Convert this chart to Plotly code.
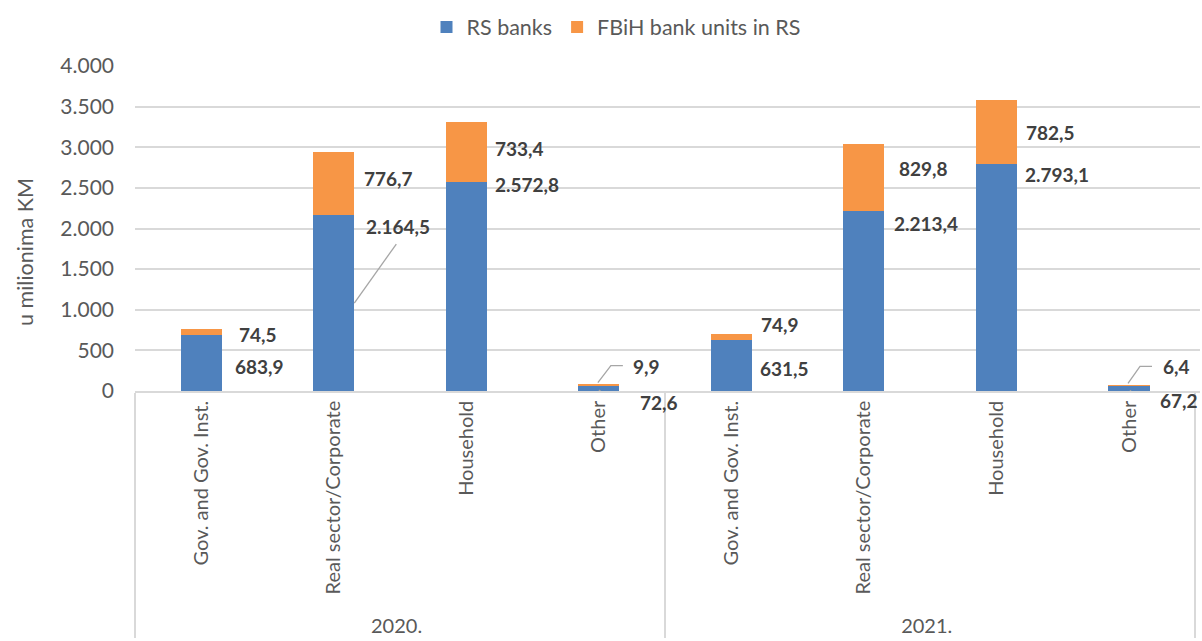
import plotly.graph_objects as go

# ---- data ----
years = ["2020.", "2021."]
categories = ["Gov. and Gov. Inst.", "Real sector/Corporate", "Household", "Other"]
rs_banks = [683.9, 2164.5, 2572.8, 72.6, 631.5, 2213.4, 2793.1, 67.2]
fbih_units = [74.5, 776.7, 733.4, 9.9, 74.9, 829.8, 782.5, 6.4]
y_ticks = [0, 500, 1000, 1500, 2000, 2500, 3000, 3500, 4000]

# ---- label placement (pixels, relative to bar centre / segment middle) ----
rs_dx = [32, 30, 27, 39, 27, 28, 27, 29]
rs_dy = [-3, 77, 102, -14, -3, 78, 103, -12]
fb_dx = [36, 28, 27, 32, 28, 33, 28, 32]
fb_dy = [-2, 5, 4, 18, 12, 9, 0, 19]
# leader lines: (series, index) -> list of pixel points
leaders = {
    ("rs", 1): [(20.5, 0), (62.5, 59)],
    ("fb", 3): [(-1, 2), (12, 19), (24, 19)],
    ("rs", 3): [(0, -2), (17, -14), (29, -14)],
    ("fb", 7): [(-1, 2), (11, 19), (23, 19)],
    ("rs", 7): [(1, -2), (11, -12), (19, -12)],
}

BLUE = "#4f81bd"
ORANGE = "#f79646"
GRID = "#d9d9d9"
TXT = "#595959"
LBL = "#404040"
FONT = "Lato"

xcat = [[y for y in years for _ in categories], [c for _ in years for c in categories]]

fig = go.Figure()
fig.add_trace(go.Bar(x=xcat, y=rs_banks, name="RS banks", marker=dict(color=BLUE, line=dict(width=0))))
fig.add_trace(go.Bar(x=xcat, y=fbih_units, name="FBiH bank units in RS", marker=dict(color=ORANGE, line=dict(width=0))))


def fmt(v):
    s = f"{v:,.1f}"
    return s.replace(",", "X").replace(".", ",").replace("X", ".")


annotations = []
shapes = []
for i in range(len(rs_banks)):
    mid_rs = rs_banks[i] / 2
    mid_fb = rs_banks[i] + fbih_units[i] / 2
    for val, mid, dx, dy in [(rs_banks[i], mid_rs, rs_dx[i], rs_dy[i]), (fbih_units[i], mid_fb, fb_dx[i], fb_dy[i])]:
        annotations.append(dict(
            x=i, y=mid, xref="x", yref="y", text=fmt(val), showarrow=False,
            xanchor="left", yanchor="middle", xshift=dx, yshift=dy,
            font=dict(family=FONT, size=19, color=LBL, weight="bold"),
        ))
    for (ser, idx), pts in leaders.items():
        if idx != i:
            continue
        anchor_y = mid_rs if ser == "rs" else mid_fb
        path = "M " + " L ".join(f"{px},{py}" for px, py in pts)
        shapes.append(dict(
            type="path", xref="x", yref="y", xsizemode="pixel", ysizemode="pixel",
            xanchor=i, yanchor=anchor_y, path=path,
            line=dict(color="#a6a6a6", width=1.3), layer="above",
        ))

# y-axis title (placed like the original, slightly below the plot-area centre)
annotations.append(dict(
    x=25 / 1202, y=1 - 252 / 641, xref="paper", yref="paper", text="u milionima KM",
    showarrow=False, textangle=-90, xanchor="center", yanchor="middle",
    font=dict(family=FONT, size=21.5, color=TXT),
))

fig.update_layout(
    barmode="stack",
    bargap=0.69,
    width=1202, height=641,
    margin=dict(l=135, r=2, t=66, b=250),
    paper_bgcolor="white", plot_bgcolor="white",
    separators=",.",
    font=dict(family=FONT, color=TXT),
    legend=dict(
        orientation="h", x=616 / 1202, xref="container", xanchor="center",
        y=1 - 27 / 641, yref="container", yanchor="middle",
        font=dict(family=FONT, size=21.5, color=TXT),
        itemsizing="constant", traceorder="normal",
    ),
    annotations=annotations,
    shapes=shapes,
)
# convert the title annotation to container-relative placement
fig.layout.annotations[-1].update(xref="paper", yref="paper",
                                  x=(25 - 135) / (1202 - 137), y=(391 - 252) / 325)
fig.update_xaxes(
    type="multicategory", tickangle=-90,
    tickfont=dict(family=FONT, size=20, color=TXT),
    showline=True, linecolor=GRID, linewidth=1.5,
    showdividers=True, dividercolor=GRID, dividerwidth=1.5,
    showgrid=False, ticks="",
)
fig.update_yaxes(
    range=[0, 4000], tickvals=y_ticks, tickformat=",",
    tickfont=dict(family=FONT, size=21, color=TXT),
    showgrid=True, gridcolor=GRID, gridwidth=1.5,
    zeroline=False, showline=False, ticks="", ticklabelstandoff=20,
)

fig.write_html("out.html")
